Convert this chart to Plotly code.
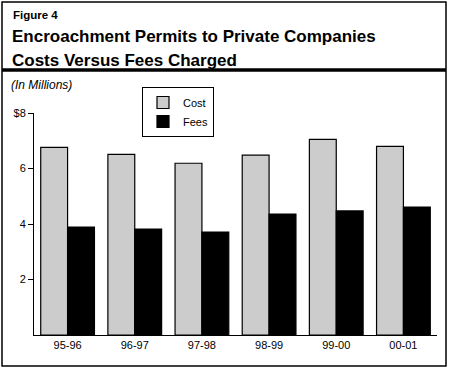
import plotly.graph_objects as go

categories = ["95-96", "96-97", "97-98", "98-99", "99-00", "00-01"]
cost = [6.76, 6.51, 6.19, 6.48, 7.05, 6.80]
fees = [3.89, 3.82, 3.71, 4.36, 4.47, 4.61]
y_tickvals = [2, 4, 6, 8]
y_ticktext = ["2", "4", "6", "$8"]

W, H = 449, 370
FONT = "Liberation Sans, Arial, sans-serif"

fig = go.Figure()
fig.add_trace(go.Bar(x=categories, y=cost, name="Cost",
                     marker=dict(color="#cccccc", line=dict(color="black", width=1.2))))
fig.add_trace(go.Bar(x=categories, y=fees, name="Fees",
                     marker=dict(color="black", line=dict(color="black", width=1.2))))

PH = 222.0
PW = 403.0

fig.update_layout(
    width=W, height=H,
    margin=dict(l=34, r=12, t=113, b=35, autoexpand=False),
    paper_bgcolor="white", plot_bgcolor="white",
    font=dict(family=FONT, size=11, color="black"),
    barmode="group", bargap=0.2, bargroupgap=0,
    showlegend=True,
    legend=dict(x=(142 - 34) / PW, y=(335 - 87) / PH, xanchor="left", yanchor="top",
                bordercolor="black", borderwidth=1, bgcolor="white",
                font=dict(size=11), tracegroupgap=4, itemwidth=30),
    xaxis=dict(type="category", showline=True, linecolor="black", linewidth=1, ticks="",
               showgrid=False, tickfont=dict(size=11)),
    yaxis=dict(range=[0, 8], showline=True, linecolor="black", linewidth=1,
               ticks="outside", ticklen=5, tickcolor="black",
               tickvals=y_tickvals, ticktext=y_ticktext,
               showgrid=False, zeroline=False, tickfont=dict(size=11)),
    shapes=[
        dict(type="rect", xref="paper", yref="paper",
             x0=-32 / PW, x1=1 + 9 / PW, y0=-31 / PH, y1=1 + 111 / PH,
             line=dict(color="black", width=1.5)),
        dict(type="line", xref="paper", yref="paper",
             x0=-32 / PW, x1=1 + 9 / PW, y0=1 + 43 / PH, y1=1 + 43 / PH,
             line=dict(color="black", width=3.5)),
    ],
    annotations=[
        dict(text="<b>Figure 4</b>", xref="paper", yref="paper",
             x=-23 / PW, y=1 + 98 / PH, xanchor="left", yanchor="middle",
             showarrow=False, font=dict(size=11.5)),
        dict(text="<b>Encroachment Permits to Private Companies</b>", xref="paper", yref="paper",
             x=-24 / PW, y=1 + 76 / PH, xanchor="left", yanchor="middle",
             showarrow=False, font=dict(size=17)),
        dict(text="<b>Costs Versus Fees Charged</b>", xref="paper", yref="paper",
             x=-24 / PW, y=1 + 53 / PH, xanchor="left", yanchor="middle",
             showarrow=False, font=dict(size=17)),
        dict(text="<i>(In Millions)</i>", xref="paper", yref="paper",
             x=-25 / PW, y=1 + 28 / PH, xanchor="left", yanchor="middle",
             showarrow=False, font=dict(size=12)),
    ],
)

fig.write_html("out.html", config={"displayModeBar": False},
               post_script="document.body.style.margin='0';document.body.style.padding='0';")
